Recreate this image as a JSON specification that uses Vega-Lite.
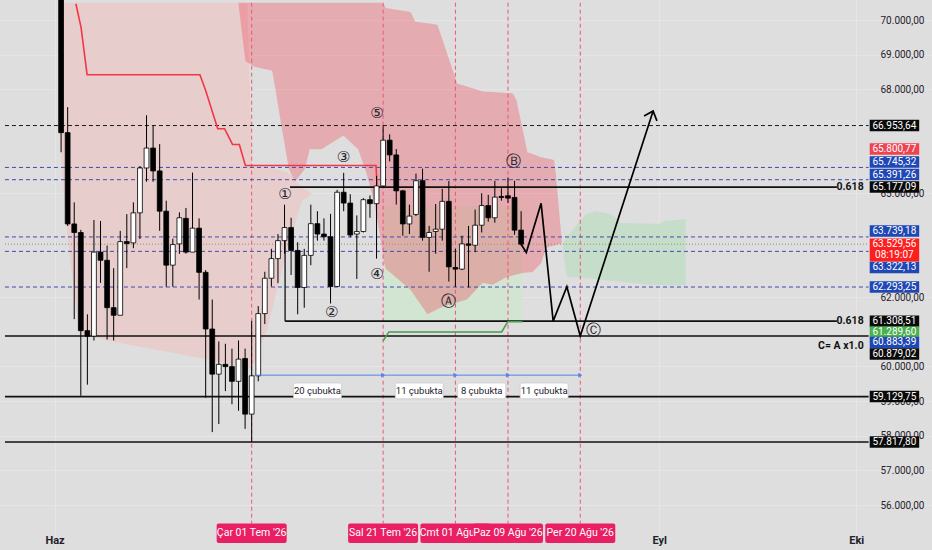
{
"$schema": "https://vega.github.io/schema/vega-lite/v6.json",
"width": 932, "height": 550,
"autosize": {"type": "none"},
"padding": 0,
"background": "#dedede",
"config": {"view": {"stroke": null}, "font": "Roboto", "axis": {"labelOverlap": false, "labelFlush": false}},
"datasets": {
"candles": [
{"date":"2026-06-02","o":70800,"h":70900,"l":66183,"c":66749},
{"date":"2026-06-03","o":66749,"h":67486,"l":64057,"c":64114},
{"date":"2026-06-04","o":64114,"h":64737,"l":61365,"c":63867},
{"date":"2026-06-05","o":63867,"h":63944,"l":59154,"c":61033},
{"date":"2026-06-06","o":61033,"h":61506,"l":59474,"c":60874},
{"date":"2026-06-07","o":60874,"h":64227,"l":60750,"c":63301},
{"date":"2026-06-08","o":63301,"h":64199,"l":62413,"c":63065},
{"date":"2026-06-09","o":63065,"h":63490,"l":60778,"c":61697},
{"date":"2026-06-10","o":61697,"h":62838,"l":60750,"c":61478},
{"date":"2026-06-11","o":61478,"h":63915,"l":61478,"c":63604},
{"date":"2026-06-12","o":63604,"h":64397,"l":62838,"c":63547},
{"date":"2026-06-13","o":63567,"h":64737,"l":63414,"c":64434},
{"date":"2026-06-14","o":64434,"h":65786,"l":63680,"c":65729},
{"date":"2026-06-15","o":65729,"h":67251,"l":65332,"c":66305},
{"date":"2026-06-16","o":66305,"h":66956,"l":65332,"c":65644},
{"date":"2026-06-17","o":65644,"h":66418,"l":63915,"c":64482},
{"date":"2026-06-18","o":64482,"h":64785,"l":62300,"c":62924},
{"date":"2026-06-19","o":62924,"h":63689,"l":62300,"c":63519},
{"date":"2026-06-20","o":63538,"h":64450,"l":63250,"c":64292},
{"date":"2026-06-21","o":64275,"h":64576,"l":63255,"c":63301},
{"date":"2026-06-22","o":63301,"h":65596,"l":63301,"c":63992},
{"date":"2026-06-23","o":63992,"h":64275,"l":61932,"c":62717},
{"date":"2026-06-24","o":62717,"h":62782,"l":59098,"c":61081},
{"date":"2026-06-25","o":61081,"h":61932,"l":58106,"c":59778},
{"date":"2026-06-26","o":59778,"h":60721,"l":58341,"c":60061},
{"date":"2026-06-27","o":60061,"h":60656,"l":59288,"c":59996},
{"date":"2026-06-28","o":59996,"h":60515,"l":58908,"c":59571},
{"date":"2026-06-29","o":59571,"h":60750,"l":58721,"c":60211},
{"date":"2026-06-30","o":60231,"h":60515,"l":58199,"c":58624},
{"date":"2026-07-01","o":58624,"h":61317,"l":57817.8,"c":59730},
{"date":"2026-07-02","o":59730,"h":61742,"l":59571,"c":61526},
{"date":"2026-07-03","o":61526,"h":62734,"l":61223,"c":62547},
{"date":"2026-07-04","o":62547,"h":63396,"l":62309,"c":63113},
{"date":"2026-07-05","o":63113,"h":63822,"l":62405,"c":63632},
{"date":"2026-07-06","o":63632,"h":64670,"l":63255,"c":64009},
{"date":"2026-07-07","o":64009,"h":64292,"l":62640,"c":63349},
{"date":"2026-07-08","o":63349,"h":63584,"l":61506,"c":62280},
{"date":"2026-07-09","o":62280,"h":63396,"l":61696,"c":63207},
{"date":"2026-07-10","o":63207,"h":64670,"l":62923,"c":64122},
{"date":"2026-07-11","o":64122,"h":64482,"l":63632,"c":63822},
{"date":"2026-07-12","o":63822,"h":64275,"l":63632,"c":63745},
{"date":"2026-07-13","o":63745,"h":64406,"l":61818,"c":62309},
{"date":"2026-07-14","o":62309,"h":65097,"l":62309,"c":65029},
{"date":"2026-07-15","o":65029,"h":65588,"l":64482,"c":64717},
{"date":"2026-07-16","o":64717,"h":64972,"l":63726,"c":63793},
{"date":"2026-07-17","o":63822,"h":64360,"l":62527,"c":63896},
{"date":"2026-07-18","o":63896,"h":64859,"l":63867,"c":64814},
{"date":"2026-07-19","o":64814,"h":64936,"l":64292,"c":64700},
{"date":"2026-07-20","o":64700,"h":65502,"l":63113,"c":65210},
{"date":"2026-07-21","o":65210,"h":66953.64,"l":65191,"c":66531},
{"date":"2026-07-22","o":66531,"h":66701,"l":65919,"c":66106},
{"date":"2026-07-23","o":66106,"h":66276,"l":64672,"c":65069},
{"date":"2026-07-24","o":65069,"h":65097,"l":63774,"c":64114},
{"date":"2026-07-25","o":64114,"h":64672,"l":63822,"c":64340},
{"date":"2026-07-26","o":64389,"h":65567,"l":64340,"c":65361},
{"date":"2026-07-27","o":65361,"h":65709,"l":63632,"c":63726},
{"date":"2026-07-28","o":63726,"h":64057,"l":62734,"c":63867},
{"date":"2026-07-29","o":63896,"h":64689,"l":63255,"c":63963},
{"date":"2026-07-30","o":63963,"h":65126,"l":63632,"c":64766},
{"date":"2026-07-31","o":64766,"h":65352,"l":62450,"c":62875},
{"date":"2026-08-01","o":62858,"h":63396,"l":62293.25,"c":62810},
{"date":"2026-08-02","o":62810,"h":63774,"l":62782,"c":63538},
{"date":"2026-08-03","o":63538,"h":64057,"l":62280,"c":63499},
{"date":"2026-08-04","o":63499,"h":64530,"l":63301,"c":64077},
{"date":"2026-08-05","o":64077,"h":65001,"l":63867,"c":64644},
{"date":"2026-08-06","o":64644,"h":64955,"l":64179,"c":64292},
{"date":"2026-08-07","o":64292,"h":65361,"l":64150,"c":64888},
{"date":"2026-08-08","o":64907,"h":65143,"l":64785,"c":64879},
{"date":"2026-08-09","o":64927,"h":65454,"l":64717,"c":64859},
{"date":"2026-08-10","o":64879,"h":65361,"l":63802,"c":63935},
{"date":"2026-08-11","o":63935,"h":64482,"l":63490,"c":63529.56}
],
"cloudPink": [
{"date":"2026-06-01T18:00:00Z","top":70500,"bottom":66749},
{"date":"2026-06-02T19:00:00Z","top":70500,"bottom":64057},
{"date":"2026-06-04T18:00:00Z","top":70500,"bottom":60940},
{"date":"2026-06-11T13:00:00Z","top":70500,"bottom":60656},
{"date":"2026-06-23T14:00:00Z","top":70500,"bottom":60231},
{"date":"2026-06-30T08:00:00Z","top":70500,"bottom":59948},
{"date":"2026-07-01T02:00:00Z","top":65758,"bottom":59948},
{"date":"2026-07-03T09:00:00Z","top":65758,"bottom":61081},
{"date":"2026-07-06T09:00:00Z","top":65616,"bottom":63349},
{"date":"2026-07-08T15:00:00Z","top":65191,"bottom":64766},
{"date":"2026-07-10T03:00:00Z","top":64992,"bottom":64992}
],
"cloudRed": [
{"date":"2026-06-29T00:00:00Z","top":70500,"bottom":70450},
{"date":"2026-06-30T01:00:00Z","top":70500,"bottom":68818},
{"date":"2026-07-01T10:00:00Z","top":70500,"bottom":68648},
{"date":"2026-07-04T03:00:00Z","top":70500,"bottom":68535},
{"date":"2026-07-04T13:00:00Z","top":70500,"bottom":68081},
{"date":"2026-07-05T15:00:00Z","top":70500,"bottom":66834},
{"date":"2026-07-06T16:00:00Z","top":70500,"bottom":65701},
{"date":"2026-07-07T14:00:00Z","top":70500,"bottom":65332},
{"date":"2026-07-09T02:00:00Z","top":70500,"bottom":65701},
{"date":"2026-07-09T20:00:00Z","top":70500,"bottom":66267},
{"date":"2026-07-11T15:00:00Z","top":70500,"bottom":66267},
{"date":"2026-07-14T23:00:00Z","top":70500,"bottom":66664},
{"date":"2026-07-17T05:00:00Z","top":70500,"bottom":66267},
{"date":"2026-07-18T10:00:00Z","top":70500,"bottom":65616},
{"date":"2026-07-19T15:00:00Z","top":70500,"bottom":64766},
{"date":"2026-07-20T16:00:00Z","top":70500,"bottom":63632},
{"date":"2026-07-21T03:00:00Z","top":70450,"bottom":63008},
{"date":"2026-07-21T10:00:00Z","top":70349,"bottom":62819},
{"date":"2026-07-25T04:00:00Z","top":70235,"bottom":62215},
{"date":"2026-07-25T22:00:00Z","top":69952,"bottom":62005},
{"date":"2026-07-27T18:00:00Z","top":69906,"bottom":61506},
{"date":"2026-07-29T06:00:00Z","top":69867,"bottom":61648},
{"date":"2026-07-30T04:00:00Z","top":69357,"bottom":61733},
{"date":"2026-08-01T06:00:00Z","top":68166,"bottom":61849},
{"date":"2026-08-02T18:00:00Z","top":68081,"bottom":61932},
{"date":"2026-08-05T04:00:00Z","top":67940,"bottom":62413},
{"date":"2026-08-06T16:00:00Z","top":67920,"bottom":62357},
{"date":"2026-08-08T19:00:00Z","top":67894,"bottom":62583},
{"date":"2026-08-09T17:00:00Z","top":67883,"bottom":62626},
{"date":"2026-08-10T07:00:00Z","top":67685,"bottom":62654},
{"date":"2026-08-11T05:00:00Z","top":66863,"bottom":62697},
{"date":"2026-08-11T23:00:00Z","top":66183,"bottom":62711},
{"date":"2026-08-12T17:00:00Z","top":66132,"bottom":62725},
{"date":"2026-08-14T01:00:00Z","top":66041,"bottom":62980},
{"date":"2026-08-14T19:00:00Z","top":66007,"bottom":63434},
{"date":"2026-08-16T00:00:00Z","top":65956,"bottom":63490},
{"date":"2026-08-16T07:00:00Z","top":65531,"bottom":63504},
{"date":"2026-08-16T18:00:00Z","top":64567,"bottom":63526},
{"date":"2026-08-17T05:00:00Z","top":63547,"bottom":63547}
],
"cloudGreenMid": [
{"date":"2026-07-21T03:00:00Z","top":64624,"bottom":61280},
{"date":"2026-08-11T05:00:00Z","top":64624,"bottom":61280}
],
"cloudGreen": [
{"date":"2026-08-17T09:00:00Z","top":63547,"bottom":63349},
{"date":"2026-08-17T23:00:00Z","top":63745,"bottom":62583},
{"date":"2026-08-20T20:00:00Z","top":64397,"bottom":62555},
{"date":"2026-08-22T08:00:00Z","top":64482,"bottom":62527},
{"date":"2026-08-24T18:00:00Z","top":64397,"bottom":62470},
{"date":"2026-08-26T06:00:00Z","top":64142,"bottom":62442},
{"date":"2026-08-30T07:00:00Z","top":64128,"bottom":62357},
{"date":"2026-08-31T20:00:00Z","top":64114,"bottom":62351},
{"date":"2026-09-01T21:00:00Z","top":64199,"bottom":62345},
{"date":"2026-09-05T01:00:00Z","top":64255,"bottom":62328}
],
"kijun": [
{"date":"2026-06-04T06:00:00Z","price":70470},
{"date":"2026-06-05T01:00:00Z","price":69782},
{"date":"2026-06-05T23:00:00Z","price":68421},
{"date":"2026-06-23T03:00:00Z","price":68421},
{"date":"2026-06-24T00:00:00Z","price":67968},
{"date":"2026-06-25T20:00:00Z","price":66863},
{"date":"2026-06-26T21:00:00Z","price":66863},
{"date":"2026-06-28T02:00:00Z","price":66409},
{"date":"2026-06-29T03:00:00Z","price":66409},
{"date":"2026-06-30T01:00:00Z","price":65800.77},
{"date":"2026-07-19T22:00:00Z","price":65800.77},
{"date":"2026-07-20T02:00:00Z","price":65247}
],
"lagging": [
{"date":"2026-07-21T00:00:00Z","price":60741},
{"date":"2026-07-21T21:00:00Z","price":60996},
{"date":"2026-08-08T01:00:00Z","price":60996},
{"date":"2026-08-08T23:00:00Z","price":61289.6},
{"date":"2026-08-11T05:00:00Z","price":61289.6}
],
"projection": [
{"date":"2026-08-11T00:00:00Z","price":63529.56},
{"date":"2026-08-11T19:00:00Z","price":63292},
{"date":"2026-08-14T01:00:00Z","price":64709},
{"date":"2026-08-15T21:00:00Z","price":61308.51},
{"date":"2026-08-17T23:00:00Z","price":62300},
{"date":"2026-08-20T00:00:00Z","price":60879.02},
{"date":"2026-08-31T02:00:00Z","price":67373}
],
"arrowHead": [
{"date":"2026-08-29T17:00:00Z","price":67231},
{"date":"2026-08-31T02:00:00Z","price":67373},
{"date":"2026-08-31T16:00:00Z","price":67089}
],
"levels": [
{"price":66953.64,"from":"2026-05-24T11:00:00Z","to":"2026-10-02T21:00:00Z","style":"blackDash"},
{"price":65745.32,"from":"2026-05-24T11:00:00Z","to":"2026-10-02T21:00:00Z","style":"blueDash"},
{"price":65391.26,"from":"2026-05-24T11:00:00Z","to":"2026-10-02T21:00:00Z","style":"blueDash"},
{"price":63739.18,"from":"2026-05-24T11:00:00Z","to":"2026-10-02T21:00:00Z","style":"blueDash"},
{"price":63322.13,"from":"2026-05-24T11:00:00Z","to":"2026-10-02T21:00:00Z","style":"blueDash"},
{"price":62293.25,"from":"2026-05-24T11:00:00Z","to":"2026-10-02T21:00:00Z","style":"blueDash"},
{"price":63529.56,"from":"2026-05-24T11:00:00Z","to":"2026-10-02T21:00:00Z","style":"dotted"},
{"price":60879.02,"from":"2026-05-24T11:00:00Z","to":"2026-10-02T21:00:00Z","style":"solid"},
{"price":59129.75,"from":"2026-05-24T11:00:00Z","to":"2026-10-02T21:00:00Z","style":"solid"},
{"price":57817.80,"from":"2026-05-24T11:00:00Z","to":"2026-10-02T21:00:00Z","style":"solid"},
{"price":65177.09,"from":"2026-07-06T20:00:00Z","to":"2026-09-28T01:00:00Z","style":"solid"},
{"price":61308.51,"from":"2026-07-06T02:00:00Z","to":"2026-09-28T01:00:00Z","style":"solid"}
],
"fibLink": [
{"date":"2026-07-06T02:00:00Z","top":64009,"bottom":61308.51}
],
"notes": [
{"date":"2026-10-02T03:00:00Z","price":65177.09,"label":"0.618"},
{"date":"2026-10-02T03:00:00Z","price":61308.51,"label":"0.618"},
{"date":"2026-10-02T03:00:00Z","price":60600,"label":"C= A x1.0"}
],
"waves": [
{"date":"2026-07-06T02:00:00Z","price":64964,"label":"①"},
{"date":"2026-07-13T04:00:00Z","price":61563,"label":"②"},
{"date":"2026-07-14T23:00:00Z","price":66041,"label":"③"},
{"date":"2026-07-20T02:00:00Z","price":62668,"label":"④"},
{"date":"2026-07-20T02:00:00Z","price":67316,"label":"⑤"},
{"date":"2026-07-30T22:00:00Z","price":61903,"label":"Ⓐ"},
{"date":"2026-08-09T20:00:00Z","price":65927,"label":"Ⓑ"},
{"date":"2026-08-22T01:00:00Z","price":61053,"label":"Ⓒ"}
],
"counts": [
{"from":"2026-07-01T10:00:00Z","to":"2026-07-21T00:00:00Z","mid":"2026-07-11T00:00:00Z","label":"20 çubukta"},
{"from":"2026-07-21T00:00:00Z","to":"2026-08-01T00:00:00Z","mid":"2026-07-26T12:00:00Z","label":"11 çubukta"},
{"from":"2026-08-01T00:00:00Z","to":"2026-08-09T00:00:00Z","mid":"2026-08-05T00:00:00Z","label":"8 çubukta"},
{"from":"2026-08-09T00:00:00Z","to":"2026-08-20T00:00:00Z","mid":"2026-08-14T12:00:00Z","label":"11 çubukta"}
],
"dateTags": [
{"date":"2026-07-01T00:00:00Z","label":"Çar 01 Tem '26"},
{"date":"2026-07-21T00:00:00Z","label":"Sal 21 Tem '26"},
{"date":"2026-08-01T00:00:00Z","label":"Cmt 01 Ağu '26"},
{"date":"2026-08-09T00:00:00Z","label":"Paz 09 Ağu '26"},
{"date":"2026-08-20T00:00:00Z","label":"Per 20 Ağu '26"}
],
"priceTags": [
{"label":"66.953,64","pos":66953.64,"kind":"black"},
{"label":"65.800,77","pos":66276,"kind":"red"},
{"label":"65.745,32","pos":65899,"kind":"blue"},
{"label":"65.391,26","pos":65539,"kind":"blue"},
{"label":"65.177,09","pos":65177.09,"kind":"black"},
{"label":"63.739,18","pos":63907,"kind":"blue"},
{"label":"63.322,13","pos":62858,"kind":"blue"},
{"label":"62.293,25","pos":62293.25,"kind":"blue"},
{"label":"61.308,51","pos":61308.51,"kind":"black"},
{"label":"61.289,60","pos":60997,"kind":"green"},
{"label":"60.883,39","pos":60693,"kind":"blue"},
{"label":"60.879,02","pos":60359,"kind":"black"},
{"label":"59.129,75","pos":59129.75,"kind":"black"},
{"label":"57.817,80","pos":57817.80,"kind":"black"}
],
"currentTag": [
{"label":"63.529,56","timer":"08:19:07","pos":63363}
]
},
"layer": [
{
"data": {"name": "cloudPink"},
"mark": {"type": "area", "color": "#e8cdcd", "interpolate": "linear"},
"encoding": {
"x": {"field": "date", "type": "temporal",
"scale": {"type": "utc", "domain": [{"year":2026,"month":5,"date":24,"hours":11,"minutes":10,"utc":true},{"year":2026,"month":10,"date":11,"hours":18,"minutes":14,"utc":true}], "nice": false},
"axis": {"orient": "bottom", "offset": -24, "title": null, "domain": false, "ticks": false, "grid": true, "gridColor": "#e5e5e5",
"values": [{"year":2026,"month":6,"date":1,"utc":true},{"year":2026,"month":9,"date":1,"utc":true},{"year":2026,"month":10,"date":1,"utc":true}],
"labelExpr": "['Oca','Şub','Mar','Nis','May','Haz','Tem','Ağu','Eyl','Eki','Kas','Ara'][utcmonth(datum.value)]",
"labelFontSize": 11, "labelFontWeight": "bold", "labelColor": "#1e222d", "labelPadding": 14, "labelBaseline": "middle", "labelFlush": false, "labelOverlap": false}},
"y": {"field": "top", "type": "quantitative",
"scale": {"domain": [54846.6, 70433.6], "nice": false, "zero": false},
"axis": {"orient": "right", "offset": -58, "title": null, "domain": false, "ticks": false, "grid": true, "gridColor": "#e5e5e5",
"values": [56000,57000,58000,59000,60000,62000,65000,68000,69000,70000],
"labelExpr": "replace(replace(replace(format(datum.value, ',.2f'), ',', 'X'), '.', ','), 'X', '.')",
"labelFontSize": 10, "labelColor": "#1e222d", "labelPadding": 6, "labelAlign": "left", "labelFlush": false, "labelOverlap": false}},
"y2": {"field": "bottom"}
}
},
{
"data": {"name": "cloudGreenMid"},
"mark": {"type": "area", "color": "#d2e4d2"},
"encoding": {
"x": {"field": "date", "type": "temporal"},
"y": {"field": "top", "type": "quantitative"},
"y2": {"field": "bottom"}
}
},
{
"data": {"name": "cloudGreen"},
"mark": {"type": "area", "color": "#c6dec9"},
"encoding": {
"x": {"field": "date", "type": "temporal"},
"y": {"field": "top", "type": "quantitative"},
"y2": {"field": "bottom"}
}
},
{
"data": {"name": "cloudRed"},
"mark": {"type": "area", "color": "#f23645", "opacity": 0.3},
"encoding": {
"x": {"field": "date", "type": "temporal"},
"y": {"field": "top", "type": "quantitative"},
"y2": {"field": "bottom"}
}
},
{
"data": {"name": "dateTags"},
"mark": {"type": "rule", "color": "#ee5672", "strokeDash": [4, 3], "strokeWidth": 1},
"encoding": {
"x": {"field": "date", "type": "temporal"},
"y": {"datum": 70500, "type": "quantitative"},
"y2": {"datum": 55470}
}
},
{
"data": {"name": "levels"},
"transform": [{"filter": "datum.style == 'blackDash'"}],
"mark": {"type": "rule", "color": "#1a1a1a", "strokeDash": [4, 3], "strokeWidth": 1},
"encoding": {
"x": {"field": "from", "type": "temporal"},
"x2": {"field": "to"},
"y": {"field": "price", "type": "quantitative"}
}
},
{
"data": {"name": "levels"},
"transform": [{"filter": "datum.style == 'blueDash'"}],
"mark": {"type": "rule", "color": "#4049b0", "strokeDash": [4, 3], "strokeWidth": 1},
"encoding": {
"x": {"field": "from", "type": "temporal"},
"x2": {"field": "to"},
"y": {"field": "price", "type": "quantitative"}
}
},
{
"data": {"name": "levels"},
"transform": [{"filter": "datum.style == 'dotted'"}],
"mark": {"type": "rule", "color": "#8c8c8c", "strokeDash": [1, 2], "strokeWidth": 1},
"encoding": {
"x": {"field": "from", "type": "temporal"},
"x2": {"field": "to"},
"y": {"field": "price", "type": "quantitative"}
}
},
{
"data": {"name": "levels"},
"transform": [{"filter": "datum.style == 'solid'"}],
"mark": {"type": "rule", "color": "#111111", "strokeWidth": 1.6},
"encoding": {
"x": {"field": "from", "type": "temporal"},
"x2": {"field": "to"},
"y": {"field": "price", "type": "quantitative"}
}
},
{
"data": {"name": "fibLink"},
"mark": {"type": "rule", "color": "#111111", "strokeWidth": 1.3},
"encoding": {
"x": {"field": "date", "type": "temporal"},
"y": {"field": "top", "type": "quantitative"},
"y2": {"field": "bottom"}
}
},
{
"data": {"name": "kijun"},
"mark": {"type": "line", "color": "#f23645", "strokeWidth": 1.6},
"encoding": {
"x": {"field": "date", "type": "temporal"},
"y": {"field": "price", "type": "quantitative"}
}
},
{
"data": {"name": "lagging"},
"mark": {"type": "line", "color": "#43a047", "strokeWidth": 1.5},
"encoding": {
"x": {"field": "date", "type": "temporal"},
"y": {"field": "price", "type": "quantitative"}
}
},
{
"data": {"name": "candles"},
"mark": {"type": "rule", "color": "#000000", "strokeWidth": 1},
"encoding": {
"x": {"field": "date", "type": "temporal"},
"y": {"field": "h", "type": "quantitative"},
"y2": {"field": "l"}
}
},
{
"data": {"name": "candles"},
"mark": {"type": "bar", "width": 4.8, "stroke": "#000000", "strokeWidth": 0.8},
"encoding": {
"x": {"field": "date", "type": "temporal"},
"y": {"field": "o", "type": "quantitative"},
"y2": {"field": "c"},
"fill": {"condition": {"test": "datum.c < datum.o", "value": "#000000"}, "value": "#ffffff"}
}
},
{
"data": {"name": "projection"},
"mark": {"type": "line", "color": "#000000", "strokeWidth": 1.7},
"encoding": {
"x": {"field": "date", "type": "temporal"},
"y": {"field": "price", "type": "quantitative"}
}
},
{
"data": {"name": "arrowHead"},
"mark": {"type": "line", "color": "#000000", "strokeWidth": 1.7},
"encoding": {
"x": {"field": "date", "type": "temporal"},
"y": {"field": "price", "type": "quantitative"}
}
},
{
"data": {"name": "counts"},
"mark": {"type": "rule", "color": "#5582ee", "strokeWidth": 1},
"encoding": {
"x": {"field": "from", "type": "temporal"},
"x2": {"field": "to"},
"y": {"datum": 59750, "type": "quantitative"}
}
},
{
"data": {"name": "counts"},
"mark": {"type": "point", "shape": "triangle-right", "filled": true, "color": "#5582ee", "size": 22, "opacity": 1},
"encoding": {
"x": {"field": "to", "type": "temporal"},
"y": {"datum": 59750, "type": "quantitative"}
}
},
{
"data": {"name": "counts"},
"mark": {"type": "bar", "width": 48, "fill": "#ffffff", "stroke": "#cccccc", "strokeWidth": 0.8, "cornerRadius": 2},
"encoding": {
"x": {"field": "mid", "type": "temporal"},
"y": {"datum": 59523, "type": "quantitative"},
"y2": {"datum": 59069}
}
},
{
"data": {"name": "counts"},
"mark": {"type": "text", "fontSize": 9.5, "color": "#1e222d", "align": "center", "baseline": "middle"},
"encoding": {
"x": {"field": "mid", "type": "temporal"},
"y": {"datum": 59296, "type": "quantitative"},
"text": {"field": "label"}
}
},
{
"data": {"name": "waves"},
"mark": {"type": "text", "font": "DejaVu Sans", "fontSize": 15, "color": "#1e222d", "align": "center", "baseline": "middle"},
"encoding": {
"x": {"field": "date", "type": "temporal"},
"y": {"field": "price", "type": "quantitative"},
"text": {"field": "label"}
}
},
{
"data": {"name": "notes"},
"mark": {"type": "text", "fontSize": 10.5, "fontWeight": "bold", "color": "#111111", "align": "right", "baseline": "middle"},
"encoding": {
"x": {"field": "date", "type": "temporal"},
"y": {"field": "price", "type": "quantitative"},
"text": {"field": "label"}
}
},
{
"data": {"name": "priceTags"},
"mark": {"type": "bar", "height": 11.5},
"encoding": {
"x": {"datum": {"year":2026,"month":10,"date":3,"hours":1,"utc":true}, "type": "temporal"},
"x2": {"datum": {"year":2026,"month":10,"date":10,"hours":13,"minutes":40,"utc":true}},
"y": {"field": "pos", "type": "quantitative"},
"color": {"field": "kind", "type": "nominal", "legend": null,
"scale": {"domain": ["black","blue","red","green"], "range": ["#0a0a0a","#1f47b5","#ee4452","#4caf50"]}}
}
},
{
"data": {"name": "priceTags"},
"mark": {"type": "text", "fontSize": 10, "color": "#ffffff", "align": "center", "baseline": "middle"},
"encoding": {
"x": {"datum": {"year":2026,"month":10,"date":6,"hours":19,"utc":true}, "type": "temporal"},
"y": {"field": "pos", "type": "quantitative"},
"text": {"field": "label"}
}
},
{
"data": {"name": "currentTag"},
"mark": {"type": "bar", "height": 23, "color": "#ff1e1e"},
"encoding": {
"x": {"datum": {"year":2026,"month":10,"date":3,"hours":1,"utc":true}, "type": "temporal"},
"x2": {"datum": {"year":2026,"month":10,"date":10,"hours":13,"minutes":40,"utc":true}},
"y": {"field": "pos", "type": "quantitative"}
}
},
{
"data": {"name": "currentTag"},
"mark": {"type": "text", "fontSize": 10, "color": "#ffffff", "align": "center", "baseline": "middle", "dy": -5.5},
"encoding": {
"x": {"datum": {"year":2026,"month":10,"date":6,"hours":19,"utc":true}, "type": "temporal"},
"y": {"field": "pos", "type": "quantitative"},
"text": {"field": "label"}
}
},
{
"data": {"name": "currentTag"},
"mark": {"type": "text", "fontSize": 10, "color": "#ffffff", "align": "center", "baseline": "middle", "dy": 5.5},
"encoding": {
"x": {"datum": {"year":2026,"month":10,"date":6,"hours":19,"utc":true}, "type": "temporal"},
"y": {"field": "pos", "type": "quantitative"},
"text": {"field": "timer"}
}
},
{
"data": {"name": "dateTags"},
"transform": [{"filter": {"field": "date", "lt": {"year":2026,"month":8,"date":5,"utc":true}}}],
"mark": {"type": "bar", "width": 70, "color": "#e91e63", "cornerRadius": 2},
"encoding": {
"x": {"field": "date", "type": "temporal"},
"y": {"datum": 55470, "type": "quantitative"},
"y2": {"datum": 54903}
}
},
{
"data": {"name": "dateTags"},
"transform": [{"filter": {"field": "date", "lt": {"year":2026,"month":8,"date":5,"utc":true}}}],
"mark": {"type": "text", "fontSize": 10.5, "color": "#ffffff", "align": "center", "baseline": "middle"},
"encoding": {
"x": {"field": "date", "type": "temporal"},
"y": {"datum": 55187, "type": "quantitative"},
"text": {"field": "label"}
}
},
{
"data": {"name": "dateTags"},
"transform": [{"filter": {"field": "date", "gte": {"year":2026,"month":8,"date":5,"utc":true}}}],
"mark": {"type": "bar", "width": 70, "color": "#e91e63", "cornerRadius": 2},
"encoding": {
"x": {"field": "date", "type": "temporal"},
"y": {"datum": 55470, "type": "quantitative"},
"y2": {"datum": 54903}
}
},
{
"data": {"name": "dateTags"},
"transform": [{"filter": {"field": "date", "gte": {"year":2026,"month":8,"date":5,"utc":true}}}],
"mark": {"type": "text", "fontSize": 10.5, "color": "#ffffff", "align": "center", "baseline": "middle"},
"encoding": {
"x": {"field": "date", "type": "temporal"},
"y": {"datum": 55187, "type": "quantitative"},
"text": {"field": "label"}
}
}
]
}
